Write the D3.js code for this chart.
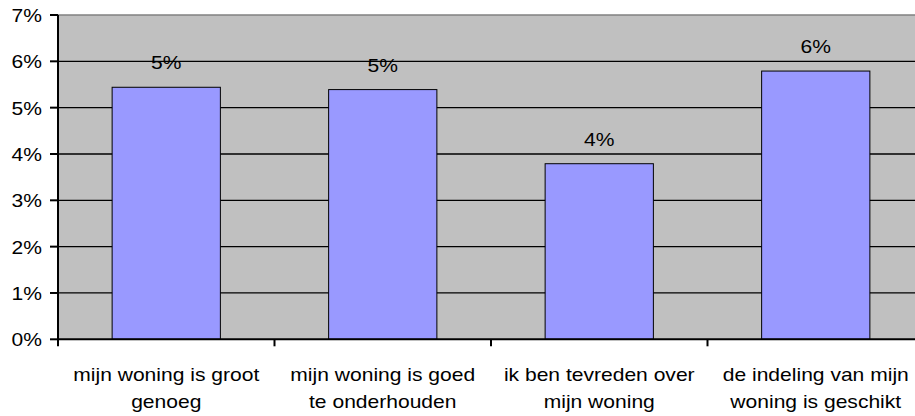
<!DOCTYPE html>
<html>
<head>
<meta charset="utf-8">
<script src="https://cdn.jsdelivr.net/npm/d3@7"></script>
<style>
  body { margin: 0; background: #fff; }
  svg text { font-family: "Liberation Sans", Arial, sans-serif; fill: #000; }
</style>
</head>
<body>
<div id="chart"></div>
<script>
// données
var categories = [
    ["mijn woning is groot", "genoeg"],
    ["mijn woning is goed", "te onderhouden"],
    ["ik ben tevreden over", "mijn woning"],
    ["de indeling van mijn", "woning is geschikt"]
];
var valeurs = [0.0544, 0.0539, 0.0379, 0.0579];
var ticksY = [0, 0.01, 0.02, 0.03, 0.04, 0.05, 0.06, 0.07];

var largeurSvg = 915, hauteurSvg = 416;
var marges = {haut: 15, gauche: 58},
    largeur = 866,
    hauteur = 324.3;
var etirement = 1.17; // le texte de l'image est un peu élargi

var svg = d3.select("#chart").append("svg")
    .attr("width", largeurSvg)
    .attr("height", hauteurSvg);
var g = svg.append("g")
    .attr("transform", "translate(" + marges.gauche + "," + marges.haut + ")");

var x = d3.scaleBand()
    .domain(d3.range(categories.length))
    .range([0, largeur])
    .paddingInner(0.5)
    .paddingOuter(0.25);
var y = d3.scaleLinear()
    .domain([0, 0.07])
    .range([hauteur, 0]);

// fond gris
g.append("rect")
    .attr("x", 0).attr("y", 0)
    .attr("width", largeur).attr("height", hauteur)
    .attr("fill", "#c0c0c0");

// bord du haut
g.append("line")
    .attr("x1", 0).attr("x2", largeur)
    .attr("y1", 0).attr("y2", 0)
    .attr("stroke", "#808080").attr("stroke-width", 1.5);

// lignes de grille
g.selectAll(".grille")
    .data(ticksY.slice(1, -1))
    .enter().append("line")
        .attr("x1", 0).attr("x2", largeur)
        .attr("y1", function(d) { return y(d); })
        .attr("y2", function(d) { return y(d); })
        .attr("stroke", "#000").attr("stroke-width", 1.3);

// barres
g.selectAll(".barre")
    .data(valeurs)
    .enter().append("rect")
        .attr("x", function(d, i) { return x(i); })
        .attr("y", function(d) { return y(d); })
        .attr("width", x.bandwidth())
        .attr("height", function(d) { return y(0) - y(d); })
        .attr("fill", "#9999ff")
        .attr("stroke", "#000").attr("stroke-width", 1);

// étiquettes de valeurs
g.selectAll(".etiquette")
    .data(valeurs)
    .enter().append("text")
        .attr("transform", function(d, i) {
            return "translate(" + (x(i) + x.bandwidth() / 2) + "," + (y(d) - 18) + ") scale(" + etirement + ",1)";
        })
        .attr("text-anchor", "middle")
        .style("font-size", "18px")
        .text(function(d) { return d3.format(".0%")(d); });

// axe Y
var axeY = g.append("g");
axeY.append("line")
    .attr("x1", 0).attr("x2", 0)
    .attr("y1", 0).attr("y2", hauteur)
    .attr("stroke", "#000").attr("stroke-width", 2);
var tY = axeY.selectAll(".ty").data(ticksY).enter().append("g")
    .attr("transform", function(d) { return "translate(0," + y(d) + ")"; });
tY.append("line")
    .attr("x1", -8).attr("x2", 0)
    .attr("stroke", "#000").attr("stroke-width", 2);
tY.append("text")
    .attr("transform", "translate(-16,7) scale(" + etirement + ",1)")
    .attr("text-anchor", "end")
    .style("font-size", "18px")
    .text(function(d) { return d3.format(".0%")(d); });

// axe X
var axeX = g.append("g").attr("transform", "translate(0," + hauteur + ")");
axeX.append("line")
    .attr("x1", 0).attr("x2", largeur)
    .attr("stroke", "#000").attr("stroke-width", 2);
var pas = x.step();
axeX.selectAll(".tx")
    .data(d3.range(categories.length + 1))
    .enter().append("line")
        .attr("x1", function(i) { return i * pas; })
        .attr("x2", function(i) { return i * pas; })
        .attr("y1", 0).attr("y2", 7)
        .attr("stroke", "#000").attr("stroke-width", 2);

var lib = axeX.selectAll(".lib")
    .data(categories)
    .enter().append("text")
        .attr("transform", function(d, i) {
            return "translate(" + (x(i) + x.bandwidth() / 2) + ",42) scale(" + etirement + ",1)";
        })
        .attr("text-anchor", "middle")
        .style("font-size", "18px");
lib.selectAll("tspan")
    .data(function(d) { return d; })
    .enter().append("tspan")
        .attr("x", 0)
        .attr("dy", function(d, j) { return j === 0 ? 0 : 27; })
        .text(function(d) { return d; });
</script>
</body>
</html>
